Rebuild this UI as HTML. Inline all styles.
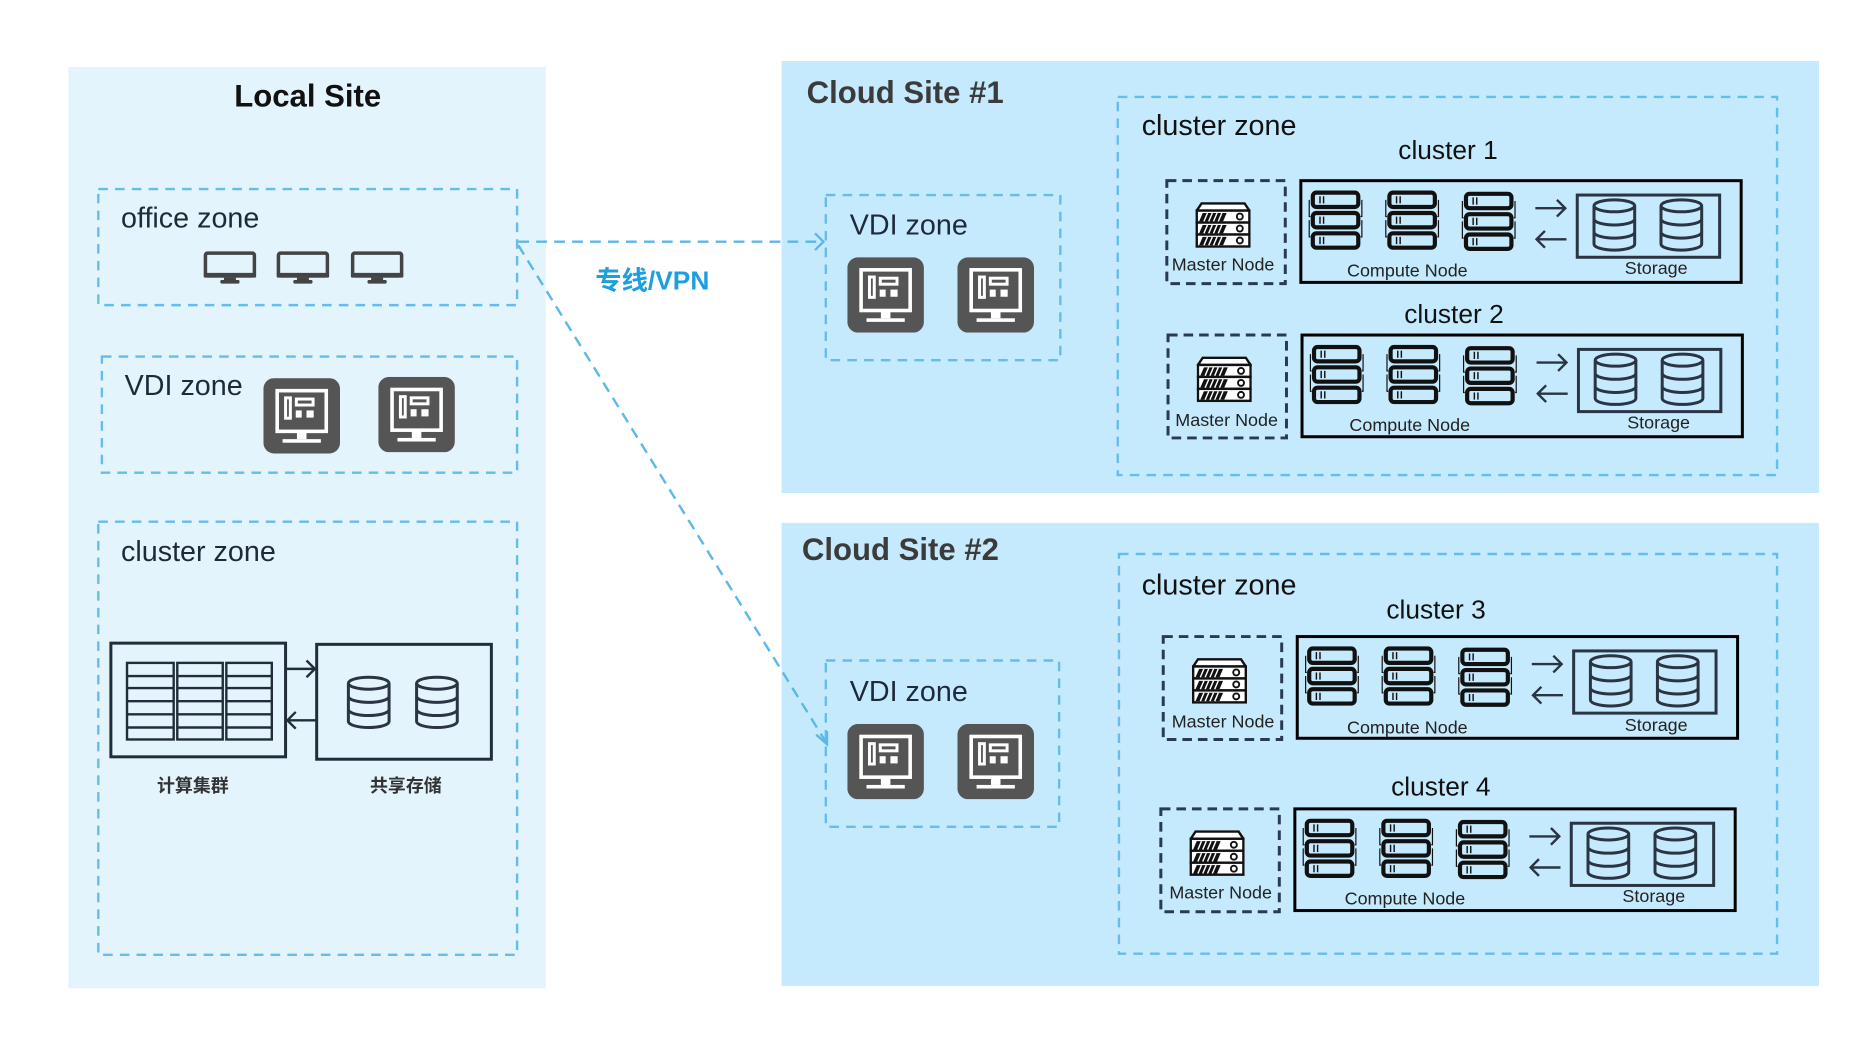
<!DOCTYPE html>
<html><head><meta charset="utf-8"><style>
html,body{margin:0;padding:0;background:#fff;width:1867px;height:1041px;overflow:hidden}
svg{display:block}
text{font-family:"Liberation Sans","Noto Sans CJK SC",sans-serif}
</style></head><body>
<svg width="1867" height="1041" viewBox="0 0 1560 870" xmlns="http://www.w3.org/2000/svg">
<defs>
<symbol id="vdi" viewBox="0 0 64 63" width="64" height="63">
<rect x="0" y="0" width="64" height="63" rx="9" fill="#555"/>
<rect x="11.5" y="10.5" width="41" height="34" fill="none" stroke="#fff" stroke-width="3"/>
<rect x="28" y="44" width="8" height="7" fill="#fff"/>
<rect x="16" y="51" width="32" height="3" fill="#fff"/>
<rect x="18.5" y="16.5" width="4" height="17" fill="none" stroke="#fff" stroke-width="2.5"/>
<rect x="27.5" y="17.5" width="14" height="5" fill="none" stroke="#fff" stroke-width="2.5"/>
<rect x="27" y="27" width="5" height="6" fill="#fff"/>
<rect x="36" y="27" width="6" height="6" fill="#fff"/>
</symbol>
<symbol id="mon" viewBox="0 0 44 30" width="44" height="30">
<rect x="1.5" y="1.5" width="41" height="19" rx="2" fill="none" stroke="#444" stroke-width="3"/>
<rect x="0" y="18" width="44" height="4" rx="1" fill="#444"/>
<rect x="17" y="22" width="10" height="3" fill="#444"/>
<rect x="14" y="24" width="16" height="3" rx="1" fill="#444"/>
</symbol>
<symbol id="cyl" viewBox="0 0 40 46" width="40" height="46">
<g fill="none" stroke="#2a3442" stroke-width="2.5">
<ellipse cx="20" cy="7" rx="17" ry="5"/>
<path d="M3 7 V39 A17 5 0 0 0 37 39 V7"/>
<path d="M3 18 A17 5 0 0 0 37 18"/>
<path d="M3 29 A17 5 0 0 0 37 29"/>
</g>
</symbol>
<symbol id="stack" viewBox="0 0 50 50" width="50" height="50">
<g fill="none" stroke="#111">
<rect x="6" y="2" width="38" height="12" rx="3" stroke-width="3.5"/>
<rect x="6" y="19" width="38" height="12" rx="3" stroke-width="3.5"/>
<rect x="6" y="36" width="38" height="12" rx="3" stroke-width="3.5"/>
<path d="M12 5v6M15 5v6M12 22v6M15 22v6M12 39v6M15 39v6" stroke-width="1.2"/>
<path d="M3 8v14h1M3 25v14h1M47 8v14h-1M47 25v14h-1" stroke-width="1"/>
</g>
</symbol>
<symbol id="master" viewBox="0 0 46 40" width="46" height="40">
<g stroke="#111" stroke-width="2" fill="#fff">
<path d="M1 8 L5 2 H41 L45 8 Z"/>
<rect x="1" y="8" width="44" height="10"/>
<rect x="1" y="18" width="44" height="10"/>
<rect x="1" y="28" width="44" height="10"/>
</g>
<g fill="#111">
<path d="M6 10h20l-3 7h-20zM6 20h20l-3 7h-20zM6 30h20l-3 7h-20z"/>
</g>
<g stroke="#fff" stroke-width="1.2"><path d="M10 10l-3 7M14 10l-3 7M18 10l-3 7M22 10l-3 7M10 20l-3 7M14 20l-3 7M18 20l-3 7M22 20l-3 7M10 30l-3 7M14 30l-3 7M18 30l-3 7M22 30l-3 7"/></g>
<g fill="none" stroke="#111" stroke-width="1.6"><circle cx="37" cy="13" r="2.5"/><circle cx="37" cy="23" r="2.5"/><circle cx="37" cy="33" r="2.5"/></g>
</symbol>
<symbol id="cluster" viewBox="0 0 485 90" width="485" height="90" overflow="visible">
<rect x="1" y="1" width="99" height="86" fill="none" stroke="#2a3a55" stroke-width="2.5" stroke-dasharray="8,5"/>
<use href="#master" x="25" y="18" width="46" height="40"/>
<rect x="113" y="1" width="368" height="85" fill="none" stroke="#000" stroke-width="2.5"/>
<use href="#stack" x="117" y="9" width="50" height="50"/>
<use href="#stack" x="181" y="9" width="50" height="50"/>
<use href="#stack" x="245" y="10" width="50" height="50"/>
<g fill="none" stroke="#2a3442" stroke-width="2">
<path d="M309 24h25M327 17l7 7-7 7"/>
<path d="M335 50h-25M317 43l-7 7 7 7"/>
</g>
<rect x="344" y="13" width="119" height="52" fill="none" stroke="#2a3442" stroke-width="2.5"/>
<use href="#cyl" x="355" y="15" width="40" height="46"/>
<use href="#cyl" x="411" y="15" width="40" height="46"/>
</symbol>
</defs>

<!-- backgrounds -->
<rect x="57" y="56" width="399" height="770" fill="#e3f4fd"/>
<rect x="653" y="51" width="867" height="361" fill="#c6eafd"/>
<rect x="653" y="437" width="867" height="387" fill="#c6eafd"/>

<g fill="none" stroke="#66bcea" stroke-width="2" stroke-dasharray="8,6">
<rect x="82" y="158" width="350" height="97"/>
<rect x="85" y="298" width="347" height="97"/>
<rect x="82" y="436" width="350" height="362"/>
<rect x="690" y="163" width="196" height="138"/>
<rect x="934" y="81" width="551" height="316"/>
<rect x="690" y="552" width="195" height="139"/>
<rect x="935" y="463" width="550" height="334"/>
</g>

<!-- Local site -->
<text x="257" y="89" font-size="26" font-weight="bold" text-anchor="middle" fill="#111">Local Site</text>
<text x="101" y="190" font-size="24" fill="#1e2a3a">office zone</text>
<use href="#mon" x="170" y="210" width="44" height="30"/>
<use href="#mon" x="231" y="210" width="44" height="30"/>
<use href="#mon" x="293" y="210" width="44" height="30"/>
<text x="104" y="330" font-size="24" fill="#1e2a3a">VDI zone</text>
<use href="#vdi" x="220" y="316" width="64" height="63"/>
<use href="#vdi" x="316" y="315" width="64" height="63"/>
<text x="101" y="469" font-size="24" fill="#1e2a3a">cluster zone</text>
<rect x="92.5" y="537.5" width="146" height="95" fill="none" stroke="#222d3a" stroke-width="2.5"/>
<g fill="none" stroke="#222d3a" stroke-width="2">
<rect x="106" y="554" width="39" height="64"/>
<rect x="148" y="554" width="38" height="64"/>
<rect x="189" y="554" width="38" height="64"/>
<path d="M106 565h39M106 575h39M106 586h39M106 597h39M106 608h39M148 565h38M148 575h38M148 586h38M148 597h38M148 608h38M189 565h38M189 575h38M189 586h38M189 597h38M189 608h38"/>
</g>
<rect x="264.5" y="538.5" width="146" height="96" fill="none" stroke="#222d3a" stroke-width="2.5"/>
<use href="#cyl" x="288" y="564" width="40" height="46"/>
<use href="#cyl" x="345" y="564" width="40" height="46"/>
<g fill="none" stroke="#222d3a" stroke-width="2">
<path d="M239 559h24M256 552l7 7-7 7"/>
<path d="M264 602h-24M247 595l-7 7 7 7"/>
</g>
<text x="161" y="662" font-size="15" font-weight="bold" text-anchor="middle" fill="#333">计算集群</text>
<text x="339" y="662" font-size="15" font-weight="bold" text-anchor="middle" fill="#333">共享存储</text>

<!-- connectors -->
<g fill="none" stroke="#5bb8e8" stroke-width="2">
<path d="M433 202H688" stroke-dasharray="9,6"/>
<path d="M681 195l7 7-7 7"/>
<path d="M433 205L690 620" stroke-dasharray="9,6"/>
<path d="M682 614l9 8 0-11"/>
</g>
<text x="545" y="242" font-size="22" font-weight="bold" text-anchor="middle" fill="#1c9ee0">专线/VPN</text>

<!-- Cloud site 1 -->
<text x="674" y="86" font-size="26" font-weight="bold" fill="#3b3b3b">Cloud Site #1</text>
<text x="710" y="196" font-size="24" fill="#1e2a3a">VDI zone</text>
<use href="#vdi" x="708" y="215" width="64" height="63"/>
<use href="#vdi" x="800" y="215" width="64" height="63"/>
<text x="954" y="113" font-size="24" fill="#111">cluster  zone</text>
<text x="1210" y="133" font-size="22" text-anchor="middle" fill="#111">cluster 1</text>
<use href="#cluster" x="974" y="150" width="485" height="90"/>
<text x="1022" y="226" font-size="15" text-anchor="middle" fill="#222">Master Node</text>
<text x="1176" y="231" font-size="15" text-anchor="middle" fill="#222">Compute Node</text>
<text x="1384" y="229" font-size="15" text-anchor="middle" fill="#222">Storage</text>

<text x="1215" y="270" font-size="22" text-anchor="middle" fill="#111">cluster 2</text>
<use href="#cluster" x="975" y="279" width="485" height="90"/>
<text x="1025" y="356" font-size="15" text-anchor="middle" fill="#222">Master Node</text>
<text x="1178" y="360" font-size="15" text-anchor="middle" fill="#222">Compute Node</text>
<text x="1386" y="358" font-size="15" text-anchor="middle" fill="#222">Storage</text>

<!-- Cloud site 2 -->
<text x="670" y="468" font-size="26" font-weight="bold" fill="#3b3b3b">Cloud Site #2</text>
<text x="710" y="586" font-size="24" fill="#1e2a3a">VDI zone</text>
<use href="#vdi" x="708" y="605" width="64" height="63"/>
<use href="#vdi" x="800" y="605" width="64" height="63"/>
<text x="954" y="497" font-size="24" fill="#111">cluster  zone</text>
<text x="1200" y="517" font-size="22" text-anchor="middle" fill="#111">cluster 3</text>
<use href="#cluster" x="971" y="531" width="485" height="90"/>
<text x="1022" y="608" font-size="15" text-anchor="middle" fill="#222">Master Node</text>
<text x="1176" y="613" font-size="15" text-anchor="middle" fill="#222">Compute Node</text>
<text x="1384" y="611" font-size="15" text-anchor="middle" fill="#222">Storage</text>

<text x="1204" y="665" font-size="22" text-anchor="middle" fill="#111">cluster 4</text>
<use href="#cluster" x="969" y="675" width="485" height="90"/>
<text x="1020" y="751" font-size="15" text-anchor="middle" fill="#222">Master Node</text>
<text x="1174" y="756" font-size="15" text-anchor="middle" fill="#222">Compute Node</text>
<text x="1382" y="754" font-size="15" text-anchor="middle" fill="#222">Storage</text>
</svg>
</body></html>
